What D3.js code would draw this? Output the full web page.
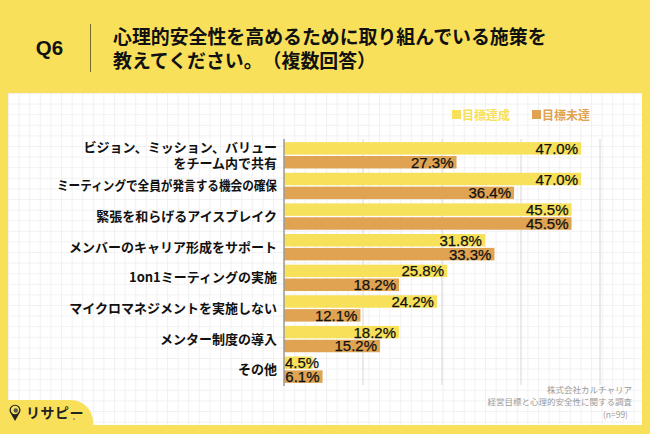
<!DOCTYPE html>
<html><head><meta charset="utf-8">
<script src="https://cdn.jsdelivr.net/npm/d3@7"></script>
<style>html,body{margin:0;padding:0;background:#F8E05B;}svg{display:block;}svg text{text-spacing-trim:space-all;}</style>
</head><body>
<script>
const categories = [
  ["ビジョン、ミッション、バリュー","をチーム内で共有"],
  ["ミーティングで全員が発言する機会の確保"],
  ["緊張を和らげるアイスブレイク"],
  ["メンバーのキャリア形成をサポート"],
  ["1on1ミーティングの実施"],
  ["マイクロマネジメントを実施しない"],
  ["メンター制度の導入"],
  ["その他"]
];
const seriesNames = ["目標達成","目標未達"];
const achieved = [47.0, 47.0, 45.5, 31.8, 25.8, 24.2, 18.2, 4.5];
const notAchieved = [27.3, 36.4, 45.5, 33.3, 18.2, 12.1, 15.2, 6.1];
const gridTicks = [12.5, 25, 37.5, 50];
const colors = ["#F7E05A", "#DFA352"];
const W = 650, H = 434;
const jp = "'Noto Sans CJK JP','Noto Sans',sans-serif";

const svg = d3.select("body").append("svg").attr("width", W).attr("height", H);
const defs = svg.append("defs");
const pat = defs.append("pattern").attr("id","grid").attr("patternUnits","userSpaceOnUse")
  .attr("width",10.6).attr("height",10.6).attr("x",8).attr("y",93);
pat.append("rect").attr("width",10.6).attr("height",10.6).attr("fill","#fff");
pat.append("path").attr("d","M0,0.5H10.6M0.5,0V10.6").attr("stroke","#f1f1f1").attr("stroke-width",1);

svg.append("rect").attr("width",W).attr("height",H).attr("fill","#F8E05B");
svg.append("rect").attr("x",8).attr("y",93).attr("width",634).attr("height",332).attr("fill","url(#grid)");

// Header
svg.append("text").attr("x",49.5).attr("y",54.5).attr("text-anchor","middle")
  .attr("font-family","'Liberation Sans',Arial,sans-serif").attr("font-weight","bold")
  .attr("font-size",20.5).attr("fill","#111").text("Q6");
svg.append("line").attr("x1",90.5).attr("x2",90.5).attr("y1",24).attr("y2",72)
  .attr("stroke","#7a6a2a").attr("stroke-width",1);
const titleLines = ["心理的安全性を高めるために取り組んでいる施策を","教えてください。（複数回答）"];
svg.selectAll("text.title").data(titleLines).join("text").attr("class","title")
  .attr("x",113).attr("y",(d,i)=>43.5+i*24)
  .attr("font-family",jp).attr("font-weight","bold").attr("font-size",18.9).attr("fill","#111")
  .text(d=>d);

// Scales
const x = d3.scaleLinear().domain([0,50]).range([284,600]);
const y = d3.scaleBand().domain(d3.range(categories.length)).range([140,385]).paddingInner(0.14).paddingOuter(0.07);
const ySub = d3.scaleBand().domain([0,1]).range([0,y.bandwidth()]).paddingInner(0.1);

// grid lines
svg.selectAll("line.grid").data(gridTicks).join("line").attr("class","grid")
  .attr("x1",d=>x(d)).attr("x2",d=>x(d)).attr("y1",139).attr("y2",385)
  .attr("stroke","#d6d6d6").attr("stroke-width",1);

// bars
const data = [];
categories.forEach((c,i)=>{
  data.push({i, s:0, v:achieved[i]});
  data.push({i, s:1, v:notAchieved[i]});
});
svg.selectAll("rect.bar").data(data).join("rect").attr("class","bar")
  .attr("x",x(0)).attr("y",d=>y(d.i)+ySub(d.s))
  .attr("width",d=>x(d.v)-x(0)).attr("height",ySub.bandwidth())
  .attr("fill",d=>colors[d.s]);

// axis line
svg.append("line").attr("x1",x(0)).attr("x2",x(0)).attr("y1",139).attr("y2",386)
  .attr("stroke","#9a9a9a").attr("stroke-width",1.5);

// value labels
const vl = svg.selectAll("text.val").data(data).join("text").attr("class","val")
  .attr("font-family","'Liberation Sans',Arial,sans-serif").attr("font-size",15)
  .attr("fill","#111").attr("stroke","#111").attr("stroke-width",0.25)
  .attr("y",d=>y(d.i)+ySub(d.s)+ySub.bandwidth()/2+5.5)
  .text(d=>d.v.toFixed(1)+"%");
vl.each(function(d){
  const w = this.getComputedTextLength();
  const end = x(d.v);
  if (end - x(0) < w + 2) {
    d3.select(this).attr("x", x(0)+1).attr("text-anchor","start");
  } else {
    d3.select(this).attr("x", end-3).attr("text-anchor","end");
  }
});

// category labels
const maxLabelW = 220;
const cl = svg.selectAll("text.cat").data(categories).join("text").attr("class","cat")
  .attr("font-family",jp).attr("font-weight","bold").attr("font-size",13).attr("fill","#111")
  .attr("text-anchor","end");
cl.each(function(lines,i){
  const cy = y(i)+y.bandwidth()/2;
  const n = lines.length, lh = 16.5;
  d3.select(this).selectAll("tspan").data(lines).join("tspan")
    .attr("x",277).attr("y",(d,k)=>cy + (k-(n-1)/2)*lh + 4.5).text(d=>d)
    .each(function(){
      if (this.getComputedTextLength() > maxLabelW) {
        d3.select(this).attr("textLength",maxLabelW).attr("lengthAdjust","spacingAndGlyphs");
      }
    });
});

// legend
const lg = svg.selectAll("g.lg").data(seriesNames).join("g").attr("class","lg")
  .attr("transform",(d,i)=>`translate(${452+i*80},110)`);
lg.append("rect").attr("x",0).attr("y",0).attr("width",9).attr("height",9).attr("fill",(d,i)=>colors[i]);
lg.append("text").attr("x",10).attr("y",9.5).attr("font-family",jp).attr("font-weight","bold")
  .attr("font-size",12).attr("fill",(d,i)=>colors[i]).text(d=>d);

// footer source
const src = ["株式会社カルチャリア","経営目標と心理的安全性に関する調査","(n=99)"];
svg.selectAll("text.src").data(src).join("text").attr("class","src")
  .attr("x",(d,i)=>i===2?628:632).attr("y",(d,i)=>[393,404.5,418][i]).attr("text-anchor","end")
  .attr("font-family",jp).attr("font-size",8.5).attr("fill","#9a9a9a").text(d=>d);

// logo tab
svg.append("path").attr("d","M0,400 H71 A22,22 0 0 1 93,422 V434 H0 Z").attr("fill","#F8E05B");
const logo = svg.append("g").attr("transform","translate(15,412)");
logo.append("path").attr("d","M0,9 L-4,2 A5.5,5.5 0 1 1 4,2 Z").attr("fill","#222");
logo.append("circle").attr("cx",0).attr("cy",-2).attr("r",4.2).attr("fill","#F8E05B");
logo.append("circle").attr("cx",0.8).attr("cy",-1.5).attr("r",2.2).attr("fill","#555");
svg.append("text").attr("x",26).attr("y",418).attr("font-family",jp).attr("font-weight","bold")
  .attr("font-size",14).attr("fill","#222").attr("letter-spacing",0.5).text("リサピー");
svg.append("circle").attr("cx",74).attr("cy",419).attr("r",0.9).attr("fill","#888");
</script>
</body></html>
